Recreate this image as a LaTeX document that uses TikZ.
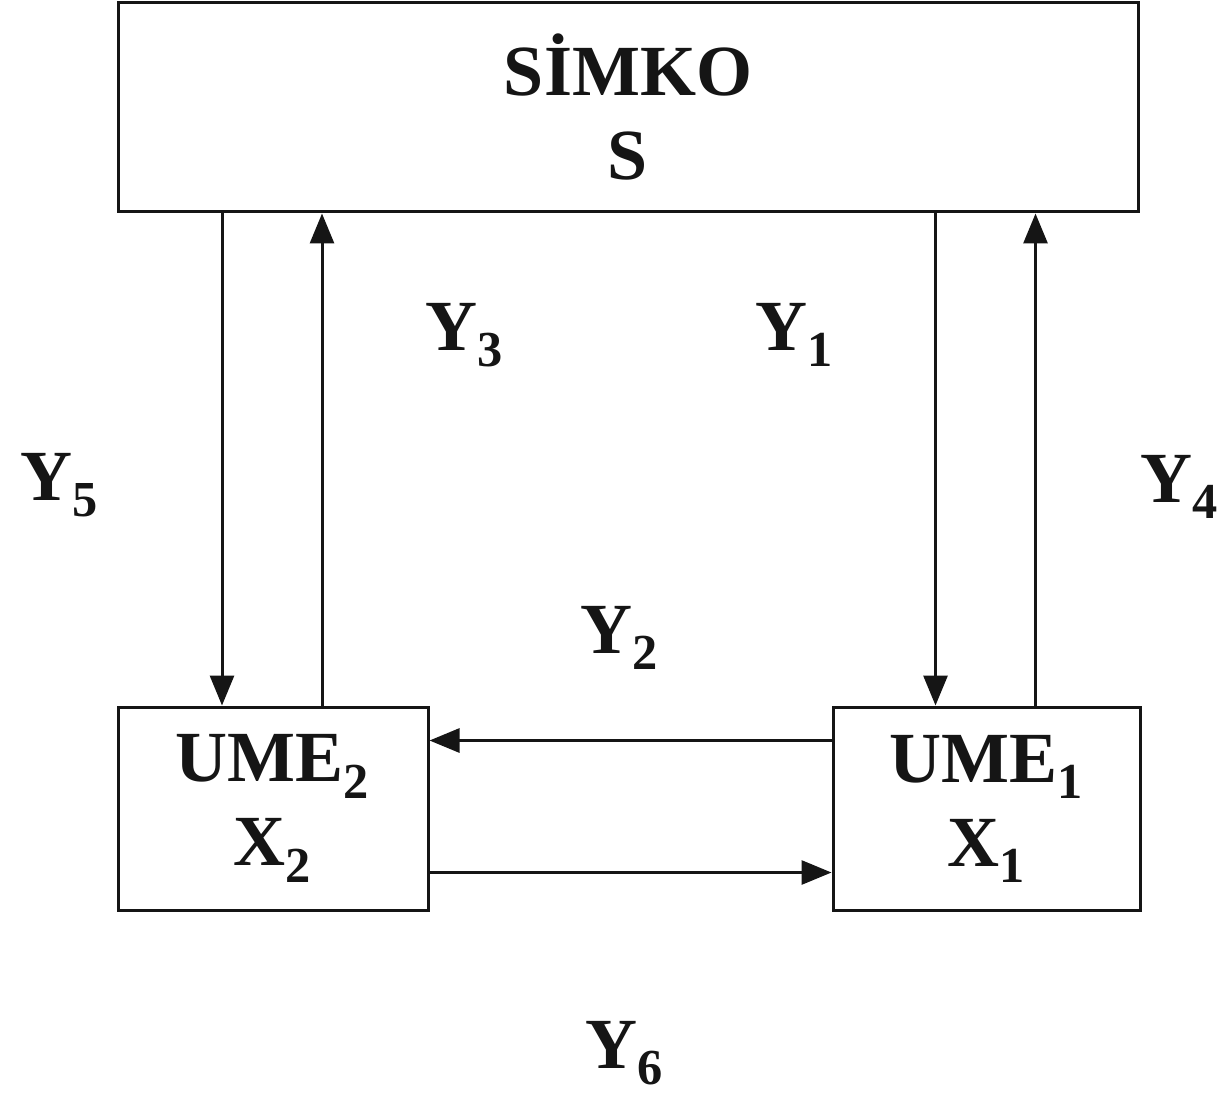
\documentclass[tikz,border=0pt]{standalone}
\usepackage{fontspec}
\setmainfont{Liberation Serif}
\usetikzlibrary{arrows.meta,positioning}
\definecolor{ink}{HTML}{151515}

\tikzset{
  block/.style={draw=ink, line width=1.5pt, align=center, inner sep=0pt,
    font=\bfseries\fontsize{36}{42}\selectfont, text=ink},
  flow/.style={draw=ink, line width=1.5pt, -{Triangle[length=15pt,width=12pt]}},
  lbl/.style={font=\bfseries\fontsize{36}{42}\selectfont, text=ink}
}

\begin{document}
\begin{tikzpicture}[x=0.5pt, y=-0.5pt]
  \useasboundingbox (0,0) rectangle (1218,1101);

  % blocks
  \node[block, minimum width=510pt, minimum height=104.5pt] (simko) at (628,107.5) {SİMKO\\S};
  \node[block, minimum width=155pt, minimum height=101.5pt] (ume2) at (273,808.5) {UME\textsubscript{2}\\X\textsubscript{2}};
  \node[block, minimum width=153.5pt, minimum height=101.5pt] (ume1) at (986.5,808.5) {UME\textsubscript{1}\\X\textsubscript{1}};

  % vertical links
  \draw[flow] ([xshift=-25.5pt]ume2.north |- simko.south) -- ([xshift=-25.5pt]ume2.north);
  \draw[flow] ([xshift=24.5pt]ume2.north) -- ([xshift=24.5pt]ume2.north |- simko.south);
  \draw[flow] ([xshift=-25.5pt]ume1.north |- simko.south) -- ([xshift=-25.5pt]ume1.north);
  \draw[flow] ([xshift=24.5pt]ume1.north) -- ([xshift=24.5pt]ume1.north |- simko.south);

  % horizontal links
  \draw[flow] ([yshift=34pt]ume1.west) -- ([yshift=34pt]ume2.east);
  \draw[flow] ([yshift=-32pt]ume2.east) -- ([yshift=-32pt]ume1.west);

  % labels
  \node[lbl] (y3) at (465,335) {Y\textsubscript{3}};
  \node[lbl] (y1) at (795,335) {Y\textsubscript{1}};
  \node[lbl] (y5) at (60,485) {Y\textsubscript{5}};
  \node[lbl] (y4) at (1180,487) {Y\textsubscript{4}};
  \node[lbl] (y2) at (620,638) {Y\textsubscript{2}};
  \node[lbl] (y6) at (625,1053) {Y\textsubscript{6}};
\end{tikzpicture}
\end{document}
